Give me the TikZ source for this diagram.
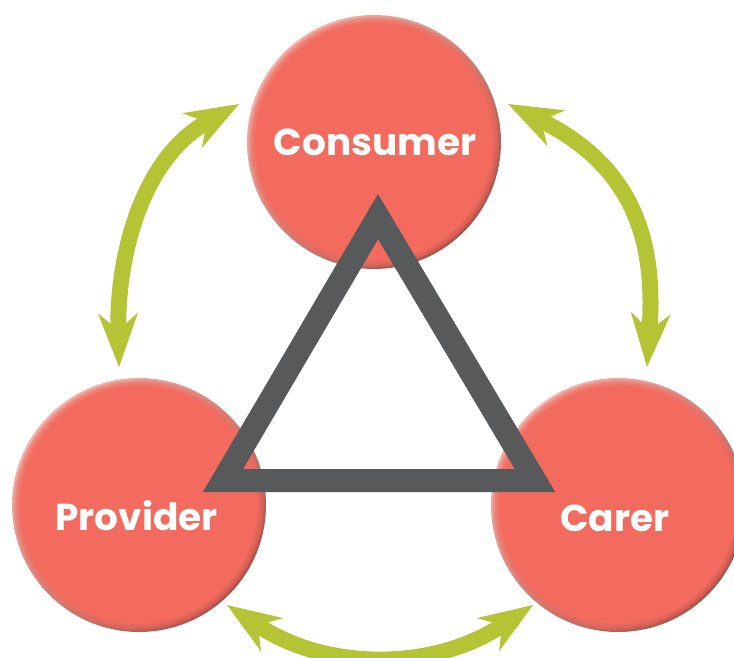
\documentclass[tikz,border=0pt]{standalone}
\usepackage{fontspec}
\newfontfamily\lblfont{Poppins}
\usetikzlibrary{arrows.meta}
\definecolor{base}{HTML}{F26B5E}
\definecolor{rimlight}{HTML}{F8B8B0}
\definecolor{rimdark}{HTML}{A84C45}
\definecolor{tri}{HTML}{58595B}
\definecolor{agreen}{HTML}{B4C435}
\tikzset{
  bubble/.style={circle, minimum size=254pt, inner sep=0pt, path picture={
    \shade[shading=axis, top color=rimlight, middle color=base, bottom color=rimdark, shading angle=45]
      ([xshift=-10pt,yshift=-10pt]path picture bounding box.south west) rectangle ([xshift=10pt,yshift=10pt]path picture bounding box.north east);
    \foreach \d in {2,3.5,5,6.5}{
      \fill[base, opacity=0.35] (path picture bounding box.center) circle[radius=127pt-\d pt];}
    \fill[base] (path picture bounding box.center) circle[radius=119pt];
  }},
  lbl/.style={text=white, font=\lblfont\bfseries\fontsize{37.5}{38}\selectfont, anchor=base, inner sep=0pt},
  ahead/.tip={Stealth[length=54pt, width=40pt, inset=17pt, line width=0pt]},
  dbl/.style={line width=16pt, draw=agreen, {ahead}-{ahead}},
  trio/.style={line width=23pt, draw=tri, line join=miter}
}
\begin{document}
\begin{tikzpicture}[x=1pt, y=-1pt]
\useasboundingbox (0,0) rectangle (734,657);
\clip (0,0) rectangle (734,657);
% circles
\node[bubble] (con) at (374,142) {};
\node[bubble] (pro) at (139,505) {};
\node[bubble] (car) at (618,505) {};
% triangle
\coordinate (ta) at (378,216.6);
\coordinate (tl) at (223,480.5);
\coordinate (tr) at (535,480.5);
\draw[trio] (ta) -- (tl) -- (tr) -- cycle;
% labels
\node[lbl] (lcon) at (375,155) {Consumer};
\node[lbl] (lpro) at (136.5,530) {Provider};
\node[lbl] (lcar) at (615,531) {Carer};
% arrows
\coordinate (a1) at (119,367);
\coordinate (a2) at (239,104);
\coordinate (b1) at (647,367);
\coordinate (b2) at (508,104);
\coordinate (c1) at (227,605);
\coordinate (c2) at (533,605);
\draw[dbl] (a1) .. controls (117,260) and (140,160) .. (a2);
\draw[dbl] (b1) .. controls (655,250) and (640,170) .. (b2);
\draw[dbl] (c1) .. controls (327,671) and (433,671) .. (c2);
\end{tikzpicture}
\end{document}
